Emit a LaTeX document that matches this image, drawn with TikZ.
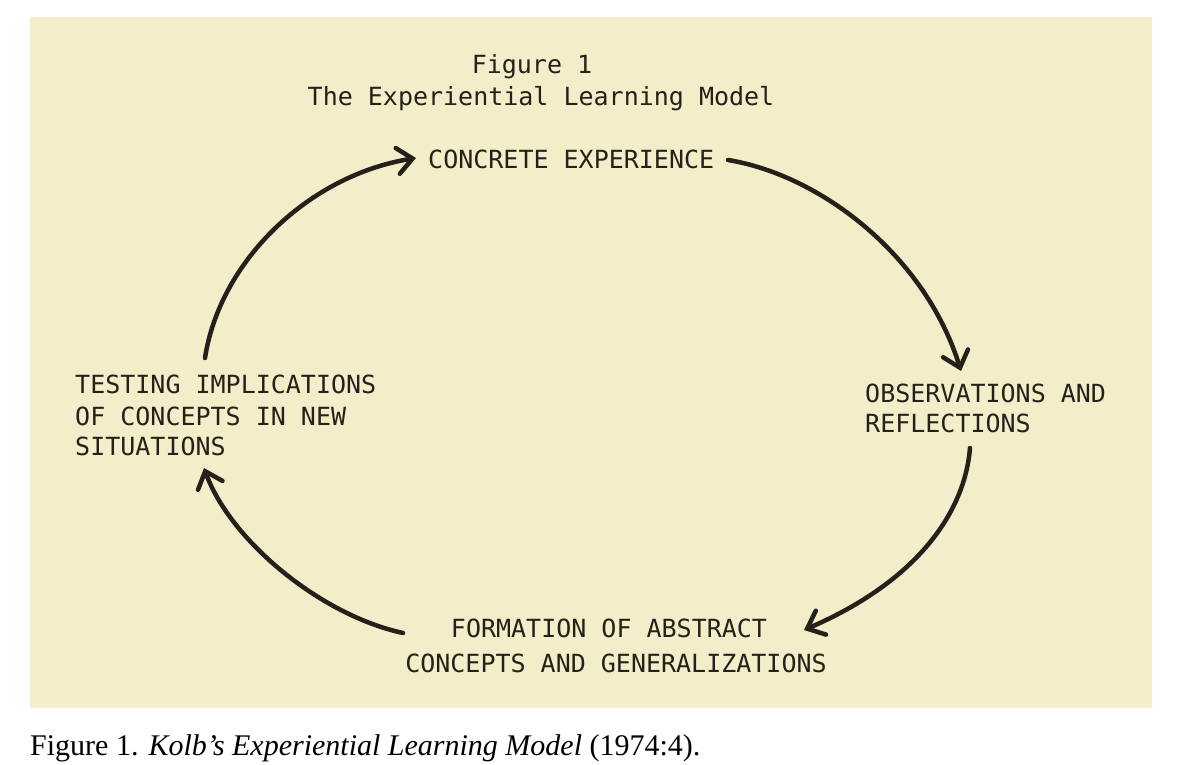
\documentclass[tikz,border=0pt]{standalone}
\usepackage{fontspec}
\setmainfont{Liberation Serif}
\newfontfamily\typew{DejaVu Sans Mono}
\usetikzlibrary{arrows.meta}
\definecolor{paper}{RGB}{244,237,201}
\definecolor{ink}{RGB}{38,32,26}
\begin{document}
\begin{tikzpicture}[x=1pt,y=-1pt,
  lab/.style={font=\typew\fontsize{25}{30}\selectfont, text=ink, inner sep=0pt, anchor=base west},
  cyc/.style={draw=ink, line width=4.5pt, line cap=round,
    -{Straight Barb[length=15pt,width=26pt,line cap=round]}}]
\useasboundingbox (0,0) rectangle (1200,765);
\fill[white] (0,0) rectangle (1200,765);
\fill[paper] (30,17) rectangle (1152,708);

\node[lab, anchor=base] (fig) at (532,74) {Figure 1};
\node[lab, anchor=base] (title) at (541,106) {The Experiential Learning Model};
\node[lab] (ce) at (428,168) {CONCRETE EXPERIENCE};
\node[lab] (or1) at (865,402) {OBSERVATIONS AND};
\node[lab] (or2) at (865,432) {REFLECTIONS};
\node[lab] (ti1) at (75,393) {TESTING IMPLICATIONS};
\node[lab] (ti2) at (75,425) {OF CONCEPTS IN NEW};
\node[lab] (ti3) at (75,455) {SITUATIONS};
\node[lab, anchor=base] (fa1) at (609,637) {FORMATION OF ABSTRACT};
\node[lab, anchor=base] (fa2) at (616,672) {CONCEPTS AND GENERALIZATIONS};

\coordinate (a1s) at (205,358);
\coordinate (a1e) at (416,158);
\coordinate (a2s) at (728,160);
\coordinate (a2e) at (961,371);
\coordinate (a3s) at (970,448);
\coordinate (a3e) at (804,630);
\coordinate (a4s) at (403,633);
\coordinate (a4e) at (204,468);

\draw[cyc] (a1s) .. controls (220,260) and (310,175) .. (a1e);
\draw[cyc] (a2s) .. controls (820,175) and (925,255) .. (a2e);
\draw[cyc] (a3s) .. controls (965,510) and (920,580) .. (a3e);
\draw[cyc] (a4s) .. controls (320,615) and (230,540) .. (a4e);

\node[font=\fontsize{30}{34}\selectfont, anchor=base west, inner sep=0pt] (cap) at (30,755)
  {Figure 1. \textit{Kolb’s Experiential Learning Model} (1974:4).};
\end{tikzpicture}
\end{document}
